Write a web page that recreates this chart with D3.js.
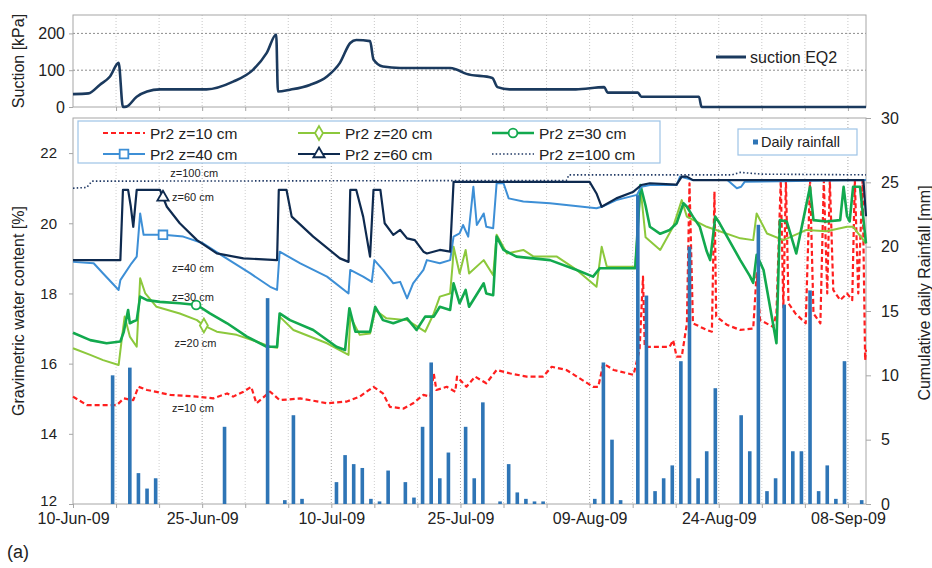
<!DOCTYPE html>
<html>
<head>
<meta charset="utf-8">
<title>Pr2 water content, suction and rainfall</title>
<script src="https://d3js.org/d3.v7.min.js"></script>
<style>
    body {margin: 0; background: #fff;}
    svg {font-family: Arial, "Liberation Sans", sans-serif;}
    .leg text {white-space: pre;}
</style>
</head>
<body>
<script>
// Données : jour = nombre de jours depuis le 10-Jun-09
var suctionEQ2 = [[0,35],[1.8,37],[3.1,60],[4.3,83],[5.3,120],[5.8,0],[6.2,1],[7.4,28],[8.6,42],[10.1,48],[15.5,48],[18.6,69],[20.9,101],[22.5,147],[23.6,197],[23.8,42],[25.2,47],[27.5,60],[29.5,83],[31,120],[32.2,174],[32.9,182],[34.5,179],[34.9,129],[36,110],[38,106],[43.8,106],[44.6,101],[45.7,90],[48.7,79],[49.3,54],[50.7,48],[58.4,48],[61.7,54],[62.1,39],[65.6,39],[66,28],[72.7,28],[73,0],[92.1,0]];

var pr2z10 = [[0,15.06],[1.6,14.82],[5.1,14.82],[5.9,15.01],[7.0,14.96],[7.6,15.34],[8.6,15.25],[11.3,15.11],[14.4,15.06],[16.3,15.01],[17.9,15.15],[18.6,15.06],[19.8,15.2],[20.7,15.34],[21.3,14.87],[22.9,15.2],[24,14.96],[26.4,15.01],[29.5,14.87],[31.8,14.92],[33.3,15.06],[34.9,15.34],[36,15.15],[36.8,14.77],[38.4,14.72],[39.5,14.87],[40.7,15.11],[41.5,15.06],[41.9,15.72],[42.2,15.25],[43.4,15.34],[44.4,15.2],[44.6,15.63],[45.7,15.34],[46.7,15.63],[48,15.44],[49.2,15.82],[50.8,15.72],[52.7,15.63],[54.6,15.63],[55.6,15.91],[57.3,15.82],[60.4,15.34],[61,15.34],[61.6,16.0],[62.8,15.82],[65.1,15.68],[65.8,16.39],[66.2,18.48],[66.4,16.48],[69.3,16.48],[69.7,16.67],[70.1,16.2],[70.7,16.2],[71.3,17.15],[71.6,21.14],[72,17.15],[73.6,16.96],[74.2,16.91],[74.5,20.9],[74.7,17.34],[76,17.1],[77.5,16.96],[79,17.0],[79.4,18.57],[79.8,17.24],[81.3,17.05],[81.7,17.43],[82.2,21.23],[82.5,17.6],[82.8,21.23],[83.1,17.72],[83.9,17.43],[85.1,17.15],[85.6,21.23],[86,17.43],[86.8,17.15],[87.2,21.23],[87.6,18.0],[87.9,21.23],[88.3,18.1],[89.1,17.81],[89.9,18.0],[90.5,17.81],[90.8,21.23],[91.2,18.0],[91.7,21.23],[92,16.1],[92.1,16.4]];

var pr2z20 = [[0,16.44],[2,16.25],[3.5,16.1],[5.3,15.96],[5.7,16.77],[6,17.34],[6.6,16.77],[7.4,16.48],[7.8,18.43],[8.4,18.0],[9.7,17.62],[12.4,17.43],[14.4,17.24],[15.1,17.1],[16.7,16.91],[19,16.82],[21.3,16.63],[22.9,16.48],[23.7,16.45],[24,17.34],[25.6,16.96],[29.5,16.58],[32,16.25],[32.2,17.34],[33.3,16.82],[34.5,16.86],[35.1,17.53],[36.4,17.29],[38.8,17.24],[40.9,16.91],[41.9,17.43],[42.6,17.91],[43.8,18.0],[44.1,18.86],[44.2,19.33],[44.9,18.57],[45.6,19.24],[46,18.57],[47.7,18.95],[48.8,18.52],[49.2,19.67],[50.4,19.14],[52.3,19.24],[53.5,19.05],[56.2,19.05],[58.5,18.67],[60.8,18.19],[61.4,19.33],[62,18.76],[65.3,18.76],[65.9,21.04],[66.5,19.6],[68.2,19.24],[69.7,19.9],[70.7,20.66],[71.3,20.19],[73.6,19.9],[77.5,19.57],[79,19.52],[79.4,20.28],[80.6,19.71],[82.5,19.52],[85.2,19.81],[87.5,19.77],[89.9,19.9],[90.6,19.9],[92.1,19.43]];

var pr2z30 = [[0,16.88],[2,16.67],[3.9,16.58],[5.5,16.63],[5.9,16.91],[6.4,17.53],[6.6,17.15],[7.0,17.2],[7.4,17.24],[7.8,17.91],[8.6,17.81],[10.1,17.76],[12.4,17.72],[14.4,17.67],[15.9,17.43],[17.9,17.15],[20.2,16.77],[22.5,16.48],[23.7,16.48],[24,17.43],[25.2,17.24],[27.9,16.96],[30.6,16.48],[31.6,16.39],[32.1,17.58],[32.8,16.91],[34.5,16.91],[35.1,17.62],[36,17.24],[37.2,17.15],[38.8,17.29],[39.9,16.96],[40.9,17.34],[41.9,17.34],[42.6,17.62],[43.8,17.53],[44.2,18.29],[44.9,17.72],[45.6,18.1],[46,17.62],[47.7,18.29],[48,18.0],[48.8,17.95],[49.2,19.62],[50,19.24],[51.5,19.05],[55.4,18.95],[58.5,18.67],[60.4,18.48],[61.2,18.72],[65.3,18.72],[65.9,21.09],[66.5,20.5],[67,19.9],[68.2,19.7],[69.3,19.81],[70.1,20.0],[70.9,20.57],[71.3,20.47],[72,20.19],[72.8,19.9],[73.6,19.2],[74,18.95],[74.6,20.19],[75.1,20.0],[77.5,18.95],[78.6,18.5],[79,18.3],[79.4,19.1],[80.2,18.67],[81.7,16.58],[82.1,20.09],[82.9,20.05],[84,19.14],[84.8,20.09],[85.6,21.04],[86,20.09],[87.5,20.05],[89.1,20.09],[89.5,21.04],[89.9,20.2],[90.2,20.05],[90.6,21.04],[91.4,21.04],[92.1,19.43]];

var pr2z40 = [[0,18.9],[2.4,18.86],[3.5,18.57],[5.3,18.1],[5.5,18.38],[6.8,18.86],[7.4,19.05],[7.8,20.28],[8.2,19.67],[10.5,19.67],[12.8,19.62],[15.1,19.43],[17.5,19.05],[20.6,18.57],[22.9,18.19],[23.7,18.1],[24,19.19],[26.4,18.86],[29.5,18.48],[32,18.0],[32.2,18.67],[33.7,18.48],[34.7,18.33],[35,18.95],[36,18.67],[37.2,18.29],[38,18.33],[38.8,17.86],[39.5,18.29],[40.7,18.67],[41.1,18.95],[42.6,18.86],[43.8,18.95],[44.2,19.62],[44.9,19.71],[45.3,19.95],[45.9,19.62],[46.5,21.04],[46.9,19.95],[47.7,20.28],[48,19.9],[48.8,19.86],[49.2,21.14],[50,21.14],[50.6,20.71],[52.3,20.62],[55.4,20.57],[60.8,20.43],[61.4,20.47],[63.1,20.66],[65.5,20.81],[66,21.04],[67,21.09],[70.1,21.09],[70.5,21.33],[72,21.23],[76,21.23],[77.1,21.0],[77.6,21.04],[78,21.18],[92.1,21.23]];

var pr2z60 = [[0,18.95],[5.5,18.95],[5.8,20.95],[6.4,20.95],[6.7,20.5],[7.0,19.9],[7.4,20.95],[10.1,20.95],[10.9,20.47],[12.4,20.0],[14.4,19.52],[16.7,19.14],[19.8,19.0],[23.7,18.95],[23.9,20.95],[24.8,20.95],[25.4,20.19],[27.9,19.62],[31,19.0],[32,18.9],[32.2,20.95],[32.9,20.95],[33.7,20.19],[34.5,19.05],[34.9,20.95],[35.7,20.95],[36.2,20.0],[37.2,19.67],[38,19.81],[38.8,19.57],[39.7,19.52],[40.7,19.19],[41.1,19.14],[42.6,19.24],[43.8,19.19],[44.2,21.18],[60,21.18],[60.8,20.85],[61.4,20.47],[63.1,20.71],[65.1,20.9],[66,21.09],[67,21.14],[70.1,21.1],[70.7,21.33],[71.3,21.33],[72,21.23],[91.8,21.23],[92.1,20.2]];

var pr2z100 = [[0,21.0],[1.6,21.02],[2.2,21.2],[57.3,21.22],[57.6,21.38],[76.5,21.38],[77.5,21.45],[80,21.4],[92.1,21.38]];

// Pluie journalière [mm] : jour, hauteur
var rainDays = [4,6,7,8,9,17,22,24,25,26,30,31,32,33,34,35,36,38,39,40,41,42,43,45,46,47,49,50,51,52,53,54,60,61,62,63,65,66,67,68,69,70,71,72,73,74,77,78,79,80,81,82,83,84,85,86,87,88,89,91];
var rainMm =   [10.0,10.6,2.4,1.2,2.0,6.0,16.0,0.3,6.9,0.4,1.7,3.8,3.1,2.8,0.4,0.2,2.6,1.7,0.5,6.0,11.0,2.0,4.0,6.0,2.0,7.9,0.2,3.1,0.9,0.4,0.2,0.2,0.4,11.0,5.0,0.3,24.0,16.2,1.0,2.0,3.0,11.1,20.0,2.0,4.1,9.0,6.9,4.1,21.7,1.0,2.0,15.5,4.1,4.1,16.6,1.0,3.0,0.4,11.1,0.3];

var seriesNames = ["Pr2 z=10 cm", "Pr2 z=20 cm", "Pr2 z=30 cm", "Pr2 z=40 cm", "Pr2 z=60 cm", "Pr2 z=100 cm"];
var seriesData = [pr2z10, pr2z20, pr2z30, pr2z40, pr2z60, pr2z100];
var markerDays = [null, 15.2, 14.3, 10.45, 10.45, null];

var suctionTicks = [0, 100, 200];
var wcTicks = [12, 14, 16, 18, 20, 22];
var rainTicks = [0, 5, 10, 15, 20, 25, 30];

// Étiquettes posées dans le graphique (jour, teneur en eau)
var zLabels = ["z=100 cm", "z=60 cm", "z=40 cm", "z=30 cm", "z=20 cm", "z=10 cm"];
var zLabelAt = [[11.3, 21.43], [11.5, 20.75], [11.5, 18.73], [11.5, 17.9], [11.8, 16.59], [11.5, 14.74]];

var start = Date.UTC(2009, 5, 10);
function day(d) { return new Date(start + d * 864e5); }

var svg = d3.select("body").append("svg")
    .attr("width", 932)
    .attr("height", 568);

var x = d3.scaleUtc().domain([day(0), day(92.1)]).range([73, 866]);
var ySuc = d3.scaleLinear().domain([0, 250]).range([107, 15]);
var yWc = d3.scaleLinear().domain([12, 23]).range([504, 118]);
var yRain = d3.scaleLinear().domain([0, 30]).range([504, 118]);

var gridDays = d3.range(5, 92, 5).map(day);
var fmt = d3.utcFormat("%d-%b-%y");

var styles = [
    {color: "#ff1f1f", width: 2.2, dash: "5,3"},
    {color: "#8cc83c", width: 2, dash: null, marker: d3.symbolDiamond},
    {color: "#12a94e", width: 2.6, dash: null, marker: d3.symbolCircle},
    {color: "#3d8fd6", width: 2, dash: null, marker: d3.symbolSquare},
    {color: "#0e2a4f", width: 2.2, dash: null, marker: d3.symbolTriangle},
    {color: "#1f3864", width: 1.6, dash: "1.5,2.2"}
];

// ---------- panneau du haut : succion ----------
var topPanel = svg.append("g");

topPanel.selectAll(".vg").data(gridDays).enter().append("line")
    .attr("x1", d => x(d)).attr("x2", d => x(d))
    .attr("y1", 15).attr("y2", 107)
    .attr("stroke", "#c8c8c8").attr("stroke-dasharray", "1,2");

topPanel.selectAll(".hg").data(suctionTicks.slice(1)).enter().append("line")
    .attr("x1", 73).attr("x2", 866)
    .attr("y1", d => ySuc(d)).attr("y2", d => ySuc(d))
    .attr("stroke", "#8c8c8c").attr("stroke-dasharray", "2,2");

topPanel.append("rect").attr("x", 73).attr("y", 15).attr("width", 793).attr("height", 92)
    .attr("fill", "none").attr("stroke", "#a6a6a6");

topPanel.append("g").attr("transform", "translate(0,107)")
    .call(d3.axisBottom(x).tickValues(gridDays).tickSize(4).tickFormat(""))
    .call(g => g.select(".domain").remove())
    .selectAll("line").attr("stroke", "#a6a6a6");

topPanel.append("g").attr("transform", "translate(73,0)")
    .call(d3.axisLeft(ySuc).tickValues(suctionTicks).tickSize(4).tickPadding(4))
    .call(g => g.select(".domain").remove())
    .call(g => g.selectAll("line").attr("stroke", "#a6a6a6"))
    .selectAll("text").attr("font-size", 16).attr("fill", "#222").attr("font-family", "Arial, Liberation Sans");

topPanel.append("path").datum(suctionEQ2)
    .attr("fill", "none").attr("stroke", "#1b3a5e").attr("stroke-width", 2.6)
    .attr("stroke-linejoin", "round")
    .attr("d", d3.line().curve(d3.curveMonotoneX).x(p => x(day(p[0]))).y(p => ySuc(p[1])));

topPanel.append("line").attr("x1", 716).attr("x2", 746).attr("y1", 57).attr("y2", 57)
    .attr("stroke", "#1b3a5e").attr("stroke-width", 3);
topPanel.append("text").attr("x", 750).attr("y", 62.5).attr("font-size", 16).attr("fill", "#222")
    .text("suction EQ2");

topPanel.append("text").attr("transform", "translate(24,61) rotate(-90)")
    .attr("text-anchor", "middle").attr("font-size", 16).attr("fill", "#222")
    .text("Suction [kPa]");

// ---------- panneau du bas : teneur en eau et pluie ----------
var bot = svg.append("g");

bot.selectAll(".vg").data(gridDays).enter().append("line")
    .attr("x1", d => x(d)).attr("x2", d => x(d))
    .attr("y1", 118).attr("y2", 504)
    .attr("stroke", (d, i) => (i % 3 == 2) ? "#a8a8a8" : "#cfcfcf")
    .attr("stroke-dasharray", "1,2");

bot.append("rect").attr("x", 73).attr("y", 118).attr("width", 793).attr("height", 386)
    .attr("fill", "none").attr("stroke", "#a6a6a6");

var xAxis = bot.append("g").attr("transform", "translate(0,504)")
    .call(d3.axisBottom(x).tickValues([day(0)].concat(gridDays)).tickSize(4).tickPadding(5)
        .tickFormat((d, i) => i % 3 == 0 ? fmt(d) : ""));
xAxis.select(".domain").remove();
xAxis.selectAll("line").attr("stroke", "#a6a6a6");
xAxis.selectAll("text").attr("font-size", 16).attr("fill", "#222").attr("font-family", "Arial, Liberation Sans");

var yAxisL = bot.append("g").attr("transform", "translate(73,0)")
    .call(d3.axisLeft(yWc).tickValues(wcTicks).tickSize(4).tickPadding(12));
yAxisL.select(".domain").remove();
yAxisL.selectAll("line").attr("stroke", "#a6a6a6");
yAxisL.selectAll("text").attr("font-size", 15).attr("fill", "#222").attr("font-family", "Arial, Liberation Sans");
// le "12" remonte un peu pour laisser la place à la date
yAxisL.selectAll(".tick").filter(d => d == 12).select("text").attr("dy", "0.1em");

var yAxisR = bot.append("g").attr("transform", "translate(866,0)")
    .call(d3.axisRight(yRain).tickValues(rainTicks).tickSize(5).tickPadding(10));
yAxisR.select(".domain").remove();
yAxisR.selectAll("line").attr("stroke", "#a6a6a6");
yAxisR.selectAll("text").attr("font-size", 16).attr("fill", "#222").attr("font-family", "Arial, Liberation Sans");

var line = d3.line().x(p => x(day(p[0]))).y(p => yWc(p[1]));

bot.selectAll(".serie").data(seriesData).enter().append("path")
    .attr("fill", "none")
    .attr("stroke", (d, i) => styles[i].color)
    .attr("stroke-width", (d, i) => styles[i].width)
    .attr("stroke-dasharray", (d, i) => styles[i].dash)
    .attr("stroke-linejoin", "round")
    .attr("d", line);

// valeur d'une série à un jour donné (pour placer les marqueurs)
function valueAt(s, d) {
    var i = d3.bisector(p => p[0]).left(s, d);
    var a = s[i - 1], b = s[i];
    return a[1] + (b[1] - a[1]) * (d - a[0]) / (b[0] - a[0]);
}

var symSize = {0: 0, 1: 55, 2: 60, 3: 75, 4: 55};
seriesData.forEach(function(s, i) {
    if (markerDays[i] == null) return;
    bot.append("path")
        .attr("transform", "translate(" + x(day(markerDays[i])) + "," + yWc(valueAt(s, markerDays[i])) + ")")
        .attr("d", d3.symbol().type(styles[i].marker).size(symSize[i]))
        .attr("fill", "#fff").attr("stroke", styles[i].color).attr("stroke-width", 1.8);
});

// barres de pluie (axe secondaire)
bot.selectAll(".bar").data(rainDays).enter().append("rect")
    .attr("x", d => x(day(d + 0.6)) - 1.8)
    .attr("width", 3.6)
    .attr("y", (d, i) => yRain(rainMm[i]))
    .attr("height", (d, i) => yRain(0) - yRain(rainMm[i]))
    .attr("fill", "#2e75b6");

bot.selectAll(".zl").data(zLabels).enter().append("text")
    .attr("x", (d, i) => x(day(zLabelAt[i][0])))
    .attr("y", (d, i) => yWc(zLabelAt[i][1]) + 4)
    .attr("font-size", 11).attr("fill", "#222")
    .text(d => d);

bot.append("text").attr("transform", "translate(24,311) rotate(-90)")
    .attr("text-anchor", "middle").attr("font-size", 16).attr("fill", "#222")
    .text("Gravimetric water content [%]");

bot.append("text").attr("transform", "translate(930,293) rotate(-90)")
    .attr("text-anchor", "middle").attr("font-size", 16).attr("fill", "#222")
    .text("Cumulative daily Rainfall [mm]");

// ---------- légendes ----------
var leg = svg.append("g").attr("class", "leg");
leg.append("rect").attr("x", 78).attr("y", 121).attr("width", 582).attr("height", 42)
    .attr("fill", "#fff").attr("stroke", "#9dc3e6").attr("stroke-width", 1.2);

var colX = [103, 298, 492], rowY = [133, 154];
seriesNames.forEach(function(name, i) {
    var lx = colX[i % 3], ly = rowY[Math.floor(i / 3)];
    leg.append("line").attr("x1", lx).attr("x2", lx + 42).attr("y1", ly).attr("y2", ly)
        .attr("stroke", styles[i].color).attr("stroke-width", styles[i].width)
        .attr("stroke-dasharray", styles[i].dash);
    if (styles[i].marker) {
        leg.append("path").attr("transform", "translate(" + (lx + 21) + "," + ly + ")")
            .attr("d", d3.symbol().type(styles[i].marker).size(symSize[i]))
            .attr("fill", "#fff").attr("stroke", styles[i].color).attr("stroke-width", 1.8);
    }
    leg.append("text").attr("x", lx + 47).attr("y", ly + 5.5)
        .attr("font-size", 15.5).attr("fill", "#222").text(name);
});

leg.append("rect").attr("x", 738).attr("y", 129).attr("width", 119).attr("height", 26)
    .attr("fill", "#fff").attr("stroke", "#9dc3e6").attr("stroke-width", 1.2);
leg.append("rect").attr("x", 753).attr("y", 139.5).attr("width", 5).attr("height", 5).attr("fill", "#2e75b6");
leg.append("text").attr("x", 761).attr("y", 147).attr("font-size", 14.5).attr("fill", "#222")
    .text("Daily rainfall");

svg.append("text").attr("x", 7).attr("y", 558).attr("font-size", 18).attr("fill", "#222").text("(a)");
</script>
</body>
</html>
